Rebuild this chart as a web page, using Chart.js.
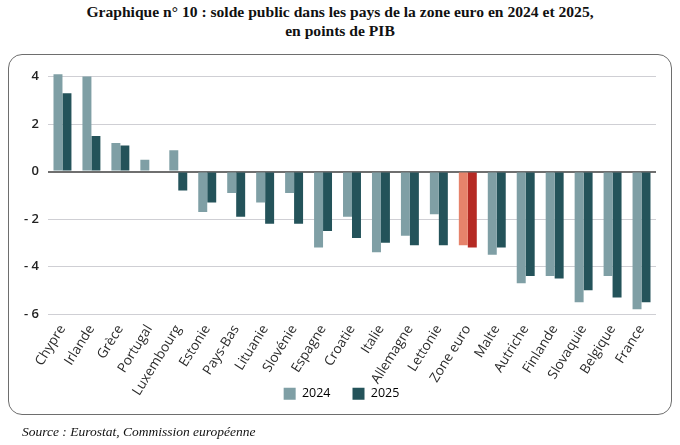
<!DOCTYPE html>
<html lang="fr">
<head>
    <meta charset="UTF-8">
    <title>Graphique n° 10 - solde public</title>
    <script src="https://cdn.jsdelivr.net/npm/chart.js"></script>
    <style>
        body { margin: 0; width: 680px; height: 445px; background: #fff; position: relative; overflow: hidden; }
        .titre { position: absolute; top: 2px; left: 0; width: 680px; text-align: center;
                 font-family: "Liberation Serif", serif; font-weight: bold; font-size: 15.6px; line-height: 19px; color: #111; }
        .cadre { position: absolute; left: 8px; top: 54px; width: 662px; height: 359px;
                 border: 1.5px solid #6e6e6e; border-radius: 14px; }
        .graph { position: absolute; left: 0; top: 0; width: 662px; height: 388px; }
        .source { position: absolute; left: 22px; top: 424px; font-family: "Liberation Serif", serif;
                  font-style: italic; font-size: 13.5px; color: #111; }
    </style>
</head>
<body>
    <div class="titre">Graphique n° 10 : solde public dans les pays de la zone euro en 2024 et 2025,<br>en points de PIB</div>
    <div class="cadre">
        <div class="graph"><canvas id="soldeGraphique"></canvas></div>
    </div>
    <div class="source">Source : Eurostat, Commission européenne</div>

    <script>
        // Données
        const pays = ['Chypre', 'Irlande', 'Grèce', 'Portugal', 'Luxembourg', 'Estonie', 'Pays-Bas', 'Lituanie',
            'Slovénie', 'Espagne', 'Croatie', 'Italie', 'Allemagne', 'Lettonie', 'Zone euro', 'Malte',
            'Autriche', 'Finlande', 'Slovaquie', 'Belgique', 'France'];
        const solde2024 = [4.1, 4.0, 1.2, 0.5, 0.9, -1.7, -0.9, -1.3, -0.9, -3.2, -1.9, -3.4, -2.7, -1.8, -3.1, -3.5,
            -4.7, -4.4, -5.5, -4.4, -5.8];
        const solde2025 = [3.3, 1.5, 1.1, 0, -0.8, -1.3, -1.9, -2.2, -2.2, -2.5, -2.8, -3.0, -3.1, -3.1, -3.2, -3.2,
            -4.4, -4.5, -5.0, -5.3, -5.5];
        const graduations = [-6, -4, -2, 0, 2, 4];

        const couleur2024 = '#7f9fa5';
        const couleur2025 = '#24535a';
        const zoneEuro = pays.indexOf('Zone euro');

        // remonte la légende juste sous les noms de pays
        const remonterLegende = {
            id: 'remonterLegende',
            afterLayout(chart) {
                const lg = chart.legend;
                if (!lg) return;
                lg.top -= 33;
                lg.bottom -= 33;
                lg.left += 6;
                lg.right += 6;
            }
        };

        const ctx = document.getElementById('soldeGraphique').getContext('2d');
        new Chart(ctx, {
            type: 'bar',
            data: {
                labels: pays,
                datasets: [
                    {
                        label: '2024',
                        data: solde2024,
                        backgroundColor: pays.map((p, i) => i === zoneEuro ? '#e6836b' : couleur2024),
                        barPercentage: 1,
                        categoryPercentage: 0.62
                    },
                    {
                        label: '2025',
                        data: solde2025,
                        backgroundColor: pays.map((p, i) => i === zoneEuro ? '#b52a24' : couleur2025),
                        barPercentage: 1,
                        categoryPercentage: 0.62
                    }
                ]
            },
            plugins: [remonterLegende],
            options: {
                responsive: true,
                maintainAspectRatio: false,
                animation: false,
                layout: { padding: { left: 6, right: 15, top: 14, bottom: 0 } },
                plugins: {
                    legend: {
                        position: 'bottom',
                        labels: {
                            boxWidth: 12, boxHeight: 12, padding: 22,
                            font: { family: 'Open Sans', size: 12.5 }, color: '#333',
                            generateLabels: chart => chart.data.datasets.map((ds, i) => ({
                                text: ds.label,
                                fillStyle: i === 0 ? couleur2024 : couleur2025,
                                strokeStyle: 'transparent',
                                lineWidth: 0,
                                datasetIndex: i
                            }))
                        }
                    },
                    tooltip: { enabled: false }
                },
                scales: {
                    x: {
                        grid: { display: false },
                        border: { display: false },
                        ticks: {
                            maxRotation: 58, minRotation: 58, autoSkip: false, padding: 0,
                            font: { family: 'Open Sans', size: 13.5 }, color: '#2a2a2a'
                        }
                    },
                    y: {
                        min: -6,
                        max: 4.2,
                        afterBuildTicks: axis => { axis.ticks = graduations.map(v => ({ value: v })); },
                        border: { display: false },
                        grid: {
                            color: c => c.tick.value === 0 ? '#6f6f6f' : '#cfcfd4',
                            lineWidth: c => c.tick.value === 0 ? 2 : 1,
                            drawTicks: false
                        },
                        ticks: {
                            padding: 9,
                            font: { family: 'Open Sans', size: 13, weight: '600' }, color: '#222',
                            callback: v => v < 0 ? '- ' + Math.abs(v) : String(v)
                        }
                    }
                }
            }
        });
    </script>
</body>
</html>
